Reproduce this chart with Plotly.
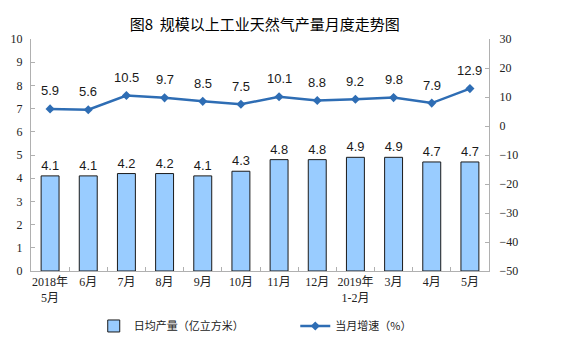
import plotly.graph_objects as go

categories = ["2018年<br>5月", "6月", "7月", "8月", "9月", "10月", "11月", "12月",
              "2019年<br>1-2月", "3月", "4月", "5月"]
daily_output = [4.1, 4.1, 4.2, 4.2, 4.1, 4.3, 4.8, 4.8, 4.9, 4.9, 4.7, 4.7]
growth = [5.9, 5.6, 10.5, 9.7, 8.5, 7.5, 10.1, 8.8, 9.2, 9.8, 7.9, 12.9]
left_ticks = list(range(0, 11))
right_ticks = list(range(-50, 31, 10))

label_font = dict(family="Liberation Sans, Arial", size=13, color="#1a1a1a")

fig = go.Figure()
fig.add_trace(go.Bar(
    x=categories, y=daily_output, name="日均产量（亿立方米）",
    marker=dict(color="#99CCFF", line=dict(color="#1a1a1a", width=1)),
    text=[f"{v:.1f}" for v in daily_output], textposition="outside",
    textfont=label_font, cliponaxis=False, yaxis="y", legend="legend",
))
fig.add_trace(go.Scatter(
    x=categories, y=growth, name="当月增速（%）", mode="lines+markers",
    line=dict(color="#2E6DB4", width=2.5),
    marker=dict(symbol="diamond", size=7, color="#2E6DB4"),
    cliponaxis=False, yaxis="y2", legend="legend2",
))
for c, v in zip(categories, growth):
    fig.add_annotation(x=c, y=v, xref="x", yref="y2", text=f"{v:.1f}",
                       showarrow=False, yshift=18, font=label_font)

legend_font = dict(family="Noto Sans CJK SC", size=11, color="#222")
axis_color = "#B0B0B0"

fig.update_layout(
    width=561, height=357,
    margin=dict(l=31, r=72, t=39, b=86),
    paper_bgcolor="white", plot_bgcolor="white",
    title=dict(text="图8  规模以上工业天然气产量月度走势图", x=0.472, xanchor="center",
               y=0.93, yanchor="middle",
               font=dict(family="Noto Sans CJK SC", size=15, color="#000")),
    bargap=0.53,
    showlegend=True,
    legend=dict(orientation="h", x=0.137, xanchor="left", y=-0.237, yanchor="middle",
                font=legend_font, itemwidth=30, bgcolor="rgba(0,0,0,0)"),
    legend2=dict(orientation="h", x=0.577, xanchor="left", y=-0.237, yanchor="middle",
                 font=legend_font, itemwidth=30, bgcolor="rgba(0,0,0,0)"),
    xaxis=dict(
        type="category", showline=True, linecolor=axis_color, linewidth=1,
        ticks="inside", tickson="boundaries", ticklen=4, tickcolor=axis_color,
        tickangle=0, automargin=False,
        tickfont=dict(family="Liberation Serif, Noto Sans CJK SC", size=12, color="#222"),
        showgrid=False, range=[-0.5, 11.5],
    ),
    yaxis=dict(
        range=[0, 10], tickvals=left_ticks, showline=True, linecolor=axis_color,
        ticks="inside", ticklen=4, tickcolor=axis_color, showgrid=False, zeroline=False,
        automargin=False, ticklabelstandoff=5,
        tickfont=dict(family="Liberation Serif, Times New Roman", size=12, color="#222"),
    ),
    yaxis2=dict(
        range=[-50, 30], tickvals=right_ticks, overlaying="y", side="right",
        showline=True, linecolor=axis_color, ticks="inside", ticklen=4,
        tickcolor=axis_color, showgrid=False, zeroline=False, automargin=False,
        ticklabelstandoff=7,
        tickfont=dict(family="Liberation Serif, Times New Roman", size=12, color="#222"),
    ),
)

fig.write_html("out.html", config={"displayModeBar": False},
               post_script="document.body.style.margin='0';")
